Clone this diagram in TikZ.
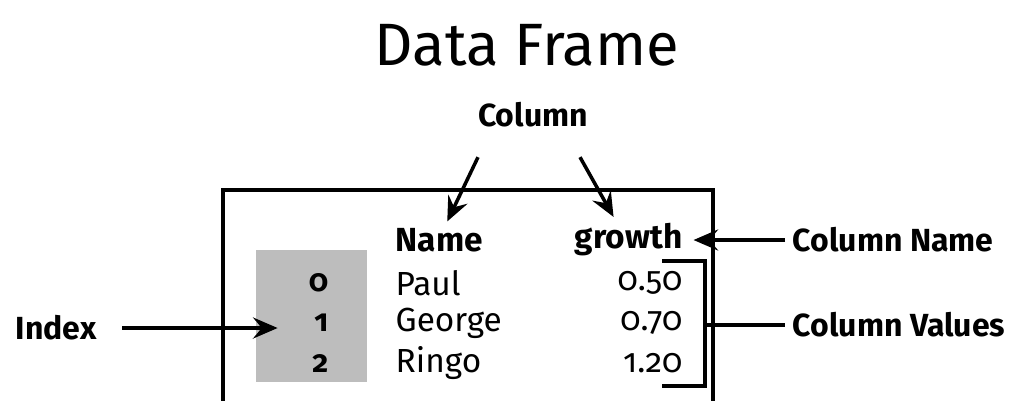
\documentclass[tikz,border=0pt]{standalone}
\usepackage{fontspec}
\setmainfont{Fira Sans}[Numbers=OldStyle]
\usetikzlibrary{arrows.meta,positioning}
\definecolor{idxgray}{gray}{0.74}
\tikzset{
	lbl/.style={font=\bfseries\fontsize{9.1}{11}\selectfont,inner sep=2pt},
	cell/.style={font=\fontsize{9.5}{11}\selectfont,inner sep=0pt},
	idxno/.style={font=\bfseries\fontsize{8.8}{10}\selectfont,inner sep=0pt},
	arr/.style={line width=1pt,-{Stealth[length=7pt,width=6pt,inset=2.5pt]}},
}
\begin{document}
\begin{tikzpicture}
\useasboundingbox (0,0) rectangle (10.11,4);
\clip (0,0) rectangle (10.11,4);

\node[font=\fontsize{17}{20}\selectfont] (title) at (5.27,3.55) {Data Frame};
\node[lbl] (colhead) at (5.33,2.85) {Column};

\draw[line width=1pt] (2.23,2.10) rectangle (7.13,-0.2);
\fill[idxgray] (2.56,1.50) rectangle (3.67,0.18);

\node[cell,font=\bfseries\fontsize{9.5}{11}\selectfont,anchor=west] (name) at (3.95,1.60) {Name};
\node[cell,font=\bfseries\fontsize{9.5}{11}\selectfont,anchor=east] (growth) at (6.83,1.60) {growth};

\foreach \y/\i/\n/\v in {1.17/0/Paul/0.50,0.77/1/George/0.70,0.37/2/Ringo/1.20}
{
	\node[idxno,anchor=east] (idx\i) at (3.29,\y) {\i};
	\node[cell,anchor=west] (nm\i) at (3.95,\y) {\n};
	\node[cell,anchor=east] (val\i) at (6.83,\y) {\v};
}

% bracket round the values
\draw[line width=1pt] (6.62,1.39) -- (7.05,1.39) -- (7.05,0.14) -- (6.62,0.14);
\coordinate (brmid) at (7.05,0.75);

\node[lbl,anchor=west] (colname) at (7.85,1.60) {Column Name};
\node[lbl,anchor=west] (colvals) at (7.85,0.75) {Column Values};
\node[lbl,anchor=west] (index) at (0.08,0.72) {Index};

\draw[arr] (colname.west) -- ([xshift=3pt]growth.east);
\draw[line width=1pt] (brmid) -- (colvals.west);
\draw[arr] ([xshift=0.18cm]index.east) -- ([xshift=-0.36cm]index.east -| idx1.west);
\draw[arr] ([xshift=-0.55cm,yshift=-0.22cm]colhead.south) -- ([xshift=0.08cm,yshift=0.06cm]name.north);
\draw[arr] ([xshift=0.47cm,yshift=-0.22cm]colhead.south) -- ([xshift=-0.15cm,yshift=0.06cm]growth.north);
\end{tikzpicture}
\end{document}
